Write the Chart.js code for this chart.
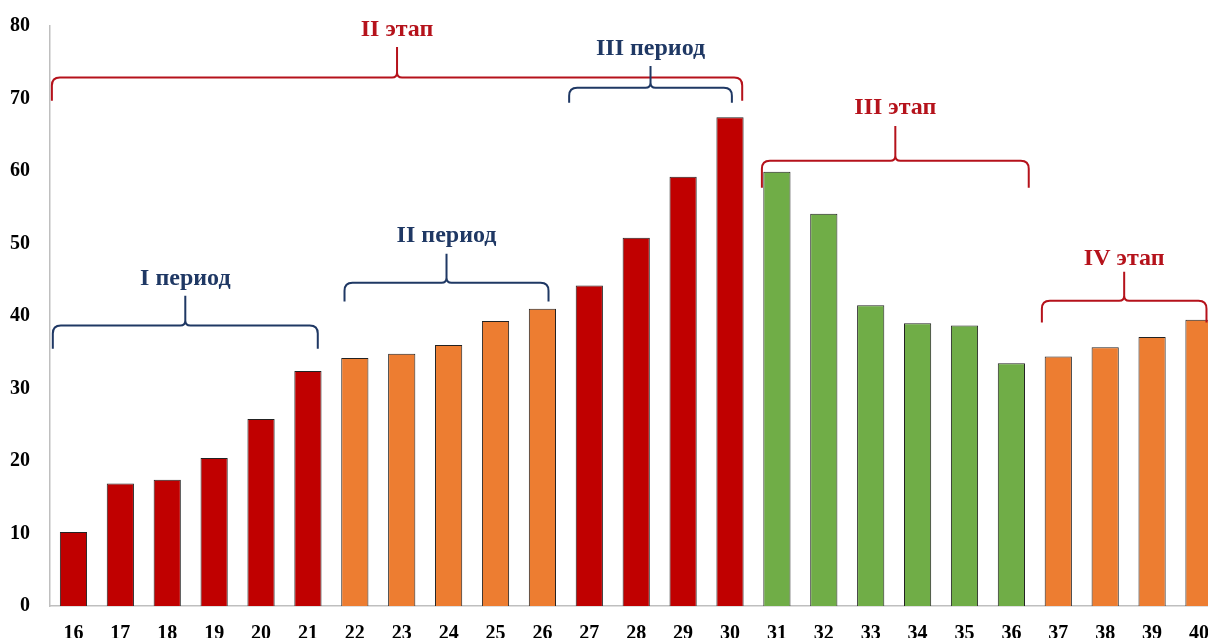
<!DOCTYPE html>
<html lang="ru">
<head>
<meta charset="UTF-8">
<title>Этапы и периоды</title>
<script src="https://cdn.jsdelivr.net/npm/chart.js"></script>
<style>
    html, body { margin: 0; padding: 0; background: #fff; overflow: hidden; }
    #chart-container { width: 1225px; height: 638px; }
</style>
</head>
<body>
<div id="chart-container">
    <canvas id="stagesChart"></canvas>
</div>
<script>
// categories (x axis)
const ages = ['16','17','18','19','20','21','22','23','24','25','26','27','28','29','30',
              '31','32','33','34','35','36','37','38','39','40'];
// bar values
const values = [10.2, 16.9, 17.4, 20.4, 25.8, 32.4, 34.2, 34.8, 36.0, 39.3, 41.0, 44.2, 50.8, 59.2, 67.4,
                59.9, 54.1, 41.5, 39.0, 38.7, 33.5, 34.4, 35.7, 37.1, 39.5];
// colour group of every bar: r = red, o = orange, g = green
const groups = ['r','r','r','r','r','r','o','o','o','o','o','r','r','r','r',
                'g','g','g','g','g','g','o','o','o','o'];
const yTicks = [0, 10, 20, 30, 40, 50, 60, 70, 80];

const groupColors = { r: '#C00000', o: '#ED7D31', g: '#70AD47' };

// braces: from/to in category positions (0 = first bar), levels in axis units
const braces = [
    { from: -0.46, to: 14.26, level: 72.9, depth: 3.2, rise: 4.2, label: 'II этап',    color: '#B5121B', labelAt: 79.5 },
    { from: 10.57, to: 14.04, level: 71.5, depth: 2.1, rise: 3.0, label: 'III период', color: '#1F3864', labelAt: 76.8 },
    { from: -0.44, to: 5.21,  level: 38.7, depth: 3.2, rise: 4.1, label: 'I период',   color: '#1F3864', labelAt: 45.2 },
    { from: 5.78,  to: 10.13, level: 44.6, depth: 2.6, rise: 4.0, label: 'II период',  color: '#1F3864', labelAt: 51.1 },
    { from: 14.68, to: 20.37, level: 61.4, depth: 3.7, rise: 4.8, label: 'III этап',   color: '#B5121B', labelAt: 68.7 },
    { from: 20.65, to: 24.16, level: 42.1, depth: 3.0, rise: 4.0, label: 'IV этап',    color: '#B5121B', labelAt: 47.9 }
];

const bracePlugin = {
    id: 'braces',
    afterDatasetsDraw(chart) {
        const ctx = chart.ctx;
        const x = chart.scales.x, y = chart.scales.y;
        const step = x.getPixelForValue(1) - x.getPixelForValue(0);
        const px = pos => x.getPixelForValue(0) + pos * step;
        ctx.save();
        braces.forEach(b => {
            const x0 = px(b.from), x1 = px(b.to);
            const xm = (x0 + x1) / 2;
            const yl = y.getPixelForValue(b.level);
            const yt = y.getPixelForValue(b.level - b.depth);
            const yp = y.getPixelForValue(b.level + b.rise);
            const r = 8, rm = 5;
            ctx.strokeStyle = b.color;
            ctx.lineWidth = 2;
            ctx.lineJoin = 'round';
            ctx.beginPath();
            ctx.moveTo(x0, yt);
            ctx.lineTo(x0, yl + r);
            ctx.quadraticCurveTo(x0, yl, x0 + r, yl);
            ctx.lineTo(xm - rm, yl);
            ctx.quadraticCurveTo(xm, yl, xm, yl - rm);
            ctx.lineTo(xm, yp);
            ctx.moveTo(xm, yl - rm);
            ctx.quadraticCurveTo(xm, yl, xm + rm, yl);
            ctx.lineTo(x1 - r, yl);
            ctx.quadraticCurveTo(x1, yl, x1, yl + r);
            ctx.lineTo(x1, yt);
            ctx.stroke();
            ctx.fillStyle = b.color;
            ctx.font = 'bold 24px "Liberation Serif", serif';
            ctx.textAlign = 'center';
            ctx.textBaseline = 'middle';
            ctx.fillText(b.label, xm, y.getPixelForValue(b.labelAt));
        });
        ctx.restore();
    }
};

new Chart(document.getElementById('stagesChart'), {
    type: 'bar',
    data: {
        labels: ages,
        datasets: [{
            data: values,
            backgroundColor: groups.map(g => groupColors[g]),
            borderColor: '#222',
            borderWidth: 1,
            barPercentage: 0.58,
            categoryPercentage: 1.0
        }]
    },
    options: {
        responsive: true,
        maintainAspectRatio: false,
        animation: false,
        layout: { padding: { top: 26, right: 1, left: 0, bottom: 0 } },
        plugins: { legend: { display: false }, tooltip: { enabled: false } },
        scales: {
            x: {
                grid: { display: false, drawTicks: false },
                border: { color: '#bfbfbf', width: 1.5 },
                ticks: {
                    color: '#000',
                    padding: 16,
                    maxRotation: 0,
                    autoSkip: false,
                    font: { family: '"Liberation Serif", serif', size: 20, weight: 'bold' }
                },
                afterFit(scale) { scale.height = 32; }
            },
            y: {
                min: 0,
                max: 80,
                afterBuildTicks(scale) { scale.ticks = yTicks.map(v => ({ value: v })); },
                grid: { display: false, drawTicks: false },
                border: { color: '#bfbfbf', width: 1.5 },
                ticks: {
                    color: '#000',
                    padding: 20,
                    font: { family: '"Liberation Serif", serif', size: 20, weight: 'bold' }
                },
                afterFit(scale) {
                    scale.width = 50;
                    scale.paddingTop = 0;
                    scale.paddingBottom = 0;
                }
            }
        }
    },
    plugins: [bracePlugin]
});
</script>
</body>
</html>
